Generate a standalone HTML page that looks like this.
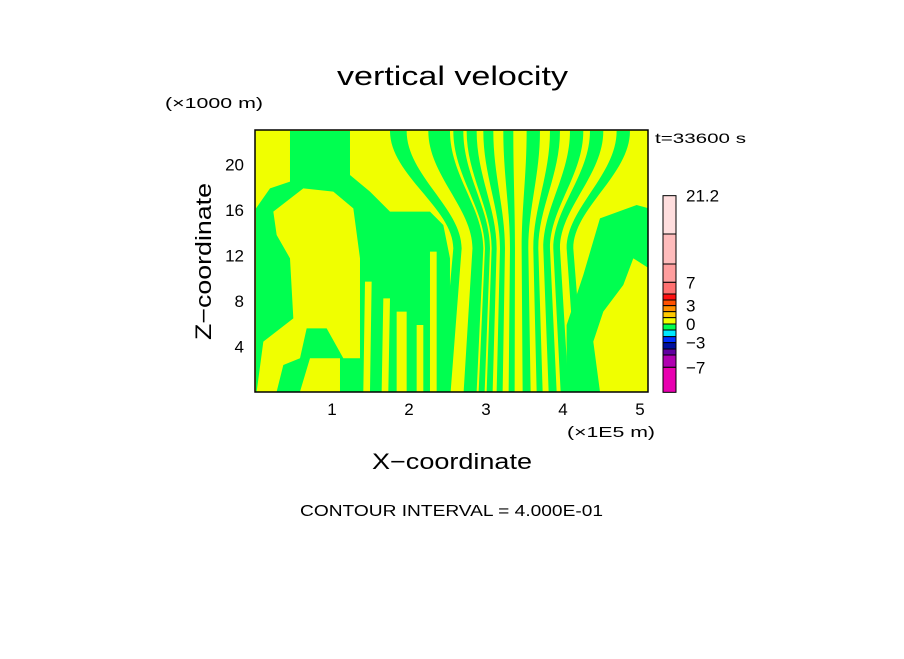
<!DOCTYPE html>
<html><head><meta charset="utf-8"><style>
body{margin:0;background:#fff;}
svg text{font-family:"Liberation Sans",sans-serif;fill:#000;}
</style></head><body>
<svg width="904" height="654" viewBox="0 0 904 654">
<rect width="904" height="654" fill="#fff"/>
<text x="337" y="85" font-size="27" textLength="231" lengthAdjust="spacingAndGlyphs">vertical velocity</text>
<text x="165" y="108" font-size="15" textLength="98" lengthAdjust="spacingAndGlyphs">(×1000 m)</text>
<text x="655" y="143" font-size="14" textLength="91" lengthAdjust="spacingAndGlyphs">t=33600 s</text>
<clipPath id="pc"><rect x="255" y="130" width="393" height="262"/></clipPath>
<g id="field" clip-path="url(#pc)">
<rect x="255" y="130" width="393" height="262" fill="#f0ff00"/>
<g transform="translate(250,125) scale(0.3333)">
<path d="M120,18 L300,18 L300,150 L360,200 L420,260 L540,260 L580,300 L600,400 L600,800 L270,800 L270,700 L180,700 L150,800 L18,800 L18,250 L60,190 L120,170 Z" fill="#00ff50"/>
<path d="M70,260 L160,190 L250,200 L310,250 L330,400 L330,700 L280,700 L230,610 L170,610 L150,700 L100,720 L80,800 L20,800 L40,650 L130,580 L120,400 L80,330 Z" fill="#f0ff00"/>
<path d="M345,470 L365,470 L360,800 L340,800 Z M400,520 L420,520 L415,800 L395,800 Z M440,560 L470,560 L470,800 L440,800 Z M500,600 L520,600 L520,800 L500,800 Z M540,380 L560,380 L560,800 L540,800 Z" fill="#f0ff00"/>
<path d="M1050,280 L1160,240 L1197,250 L1197,430 L1150,400 L1120,480 L1060,560 L1030,650 L1050,800 L950,800 L950,600 L1000,450 Z" fill="#00ff50"/>
<g id="stripes"></g>
</g>
</g>
<rect x="255" y="130" width="393" height="262" fill="none" stroke="#000" stroke-width="1.5"/>
<g id="xticks"></g><g id="yticks"></g>
<text x="567" y="437" font-size="15" textLength="88" lengthAdjust="spacingAndGlyphs">(×1E5 m)</text>
<text x="372" y="469" font-size="22" textLength="160" lengthAdjust="spacingAndGlyphs">X−coordinate</text>
<text x="0" y="0" font-size="22" textLength="157" lengthAdjust="spacingAndGlyphs" transform="translate(211 340) rotate(-90)">Z−coordinate</text>
<text x="300" y="516" font-size="16" textLength="303" lengthAdjust="spacingAndGlyphs">CONTOUR INTERVAL = 4.000E-01</text>
<g id="cbar"></g>
</svg>
<script>
const NS="http://www.w3.org/2000/svg";
const xTickVals=[1,2,3,4,5];
const yTickVals=[4,8,12,16,20];
const stripeTops=[[420,470],[535,600],[610,640],[650,680],[700,730],[760,790],[830,870],[900,930],[960,1000],[1020,1060],[1100,1140]];
const cbColors=["#ffdede","#ffbcbc","#ff9e9e","#ff7070","#ff1010","#ff5000","#ff9000","#ffc800","#f0ff00","#00ff50","#00e8ff","#0030ff","#0010a0","#6000a0","#b000b0","#e800b0"];
const cbEdges=[47,162,252,307,342,360,377,395,413,432,450,470,488,507,525,562,637];
const cbLabels=["21.2","7","3","0","−3","−7"];
const cbLabelPos=[47,307,377,432,488,562];
const X=v=>255+v*77, Y=v=>392-v*11.38;
const xt=document.getElementById('xticks');
xTickVals.forEach(v=>{const t=document.createElementNS(NS,'text');t.setAttribute('x',X(v));t.setAttribute('y',415);t.setAttribute('font-size','17');t.setAttribute('text-anchor','middle');t.textContent=v;


xt.appendChild(t);});
const yt=document.getElementById('yticks');
yTickVals.forEach(v=>{const t=document.createElementNS(NS,'text');t.setAttribute('x',244);t.setAttribute('y',Y(v)+6);t.setAttribute('font-size','17');t.setAttribute('text-anchor','end');t.textContent=v;


yt.appendChild(t);});
const sg=document.getElementById('stripes');
stripeTops.forEach(([a,b])=>{const c=800;const m=x=>c+(x-c)*0.5,bt=x=>c+(x-c)*0.6;
const d=`M${a},18 L${b},18 C${b},150 ${m(b)},250 ${m(b)},370 L${bt(b)},800 L${bt(a)},800 L${m(a)},370 C${m(a)},250 ${a},150 ${a},18 Z`;
const p=document.createElementNS(NS,'path');p.setAttribute('d',d);p.setAttribute('fill','#00ff50');


sg.appendChild(p);});
const cb=document.getElementById('cbar');
const cy=v=>180+v/3;
cbColors.forEach((c,i)=>{const r=document.createElementNS(NS,'rect');r.setAttribute('x',663);r.setAttribute('y',cy(cbEdges[i]));r.setAttribute('width',13);r.setAttribute('height',(cbEdges[i+1]-cbEdges[i])/3);r.setAttribute('fill',c);r.setAttribute('stroke','#000');r.setAttribute('stroke-width','1');


cb.appendChild(r);});
cbLabels.forEach((l,i)=>{const t=document.createElementNS(NS,'text');t.setAttribute('x',686);t.setAttribute('y',cy(cbLabelPos[i])+6);t.setAttribute('font-size','17');t.textContent=l;


cb.appendChild(t);});
</script>
</body></html>
